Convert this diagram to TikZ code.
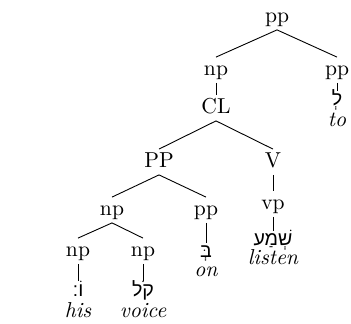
\documentclass[tikz,border=0pt]{standalone}
\usepackage{fontspec}
\newfontfamily\hebfont[Script=Hebrew]{Liberation Sans}
\newfontfamily\hebmark[Script=Hebrew]{DejaVu Sans}
\TeXXeTstate=1
\usetikzlibrary{positioning}
\tikzset{
    cat/.style={inner sep=1.6pt,text height=7.3pt,text depth=2pt,font=\fontsize{10.8}{13}\selectfont},
    word/.style={inner sep=1pt,anchor=base,text height=6.2pt,font=\fontsize{9.8}{12}\selectfont},
    gloss/.style={inner sep=1pt,font=\fontsize{10.8}{13}\selectfont\itshape},
    branch/.style={-,line width=0.45pt}
}
\newcommand{\heb}[1]{{\hebfont\beginR #1\endR}}

\begin{document}
\begin{tikzpicture}[x=0.5pt,y=-0.5pt]
    \useasboundingbox (0,0) rectangle (351,324);

    \node[cat] (pp root) at (277,17) {pp};
    \node[cat] (np top) at (216,70) {np};
    \node[cat] (pp to) at (337,70) {pp};
    \node[cat] (cl) at (216,108) {CL};
    \node[cat] (PP) at (159,162) {PP};
    \node[cat] (V) at (273,162) {V};
    \node[cat] (np obj) at (112,210) {np};
    \node[cat] (pp on) at (206,210) {pp};
    \node[cat] (vp) at (273,204) {vp};
    \node[cat] (np his) at (78,251) {np};
    \node[cat] (np voice) at (143,251) {np};

    \node[word] (heb to) at (337,106) {\heb{לְ}};
    \node[word] (heb on) at (206,257.5) {\heb{בְּ}};
    \node[word] (heb listen) at (273,246) {\heb{שְׁמַע}};
    \node[word] (heb his) at (78,296) {\heb{וֹ{\hebmark ׃}}};
    \node[word] (heb voice) at (143,296) {\heb{קֹל}};

    \node[gloss] (gloss to) [below=10.3pt of heb to.base,anchor=base] {to};
    \node[gloss] (gloss on) [below=9.6pt of heb on.base,anchor=base] {on};
    \node[gloss] (gloss listen) [below=9.3pt of heb listen.base,anchor=base] {listen};
    \node[gloss] (gloss his) [below=10.5pt of heb his.base,anchor=base] {his};
    \node[gloss] (gloss voice) [below=10.5pt of heb voice.base,anchor=base] {voice};

    \draw[branch] (pp root.south) -- (np top.north);
    \draw[branch] (pp root.south) -- (pp to.north);
    \draw[branch] (np top.south) -- (cl.north);
    \draw[branch] (pp to.south) -- (heb to.north);
    \draw[branch] (cl.south) -- (PP.north);
    \draw[branch] (cl.south) -- (V.north);
    \draw[branch] (PP.south) -- (np obj.north);
    \draw[branch] (PP.south) -- (pp on.north);
    \draw[branch] (V.south) -- (vp.north);
    \draw[branch] (vp.south) -- (heb listen.north);
    \draw[branch] (pp on.south) -- (heb on.north);
    \draw[branch] (np obj.south) -- (np his.north);
    \draw[branch] (np obj.south) -- (np voice.north);
    \draw[branch] (np his.south) -- (heb his.north);
    \draw[branch] (np voice.south) -- (heb voice.north);
\end{tikzpicture}
\end{document}
